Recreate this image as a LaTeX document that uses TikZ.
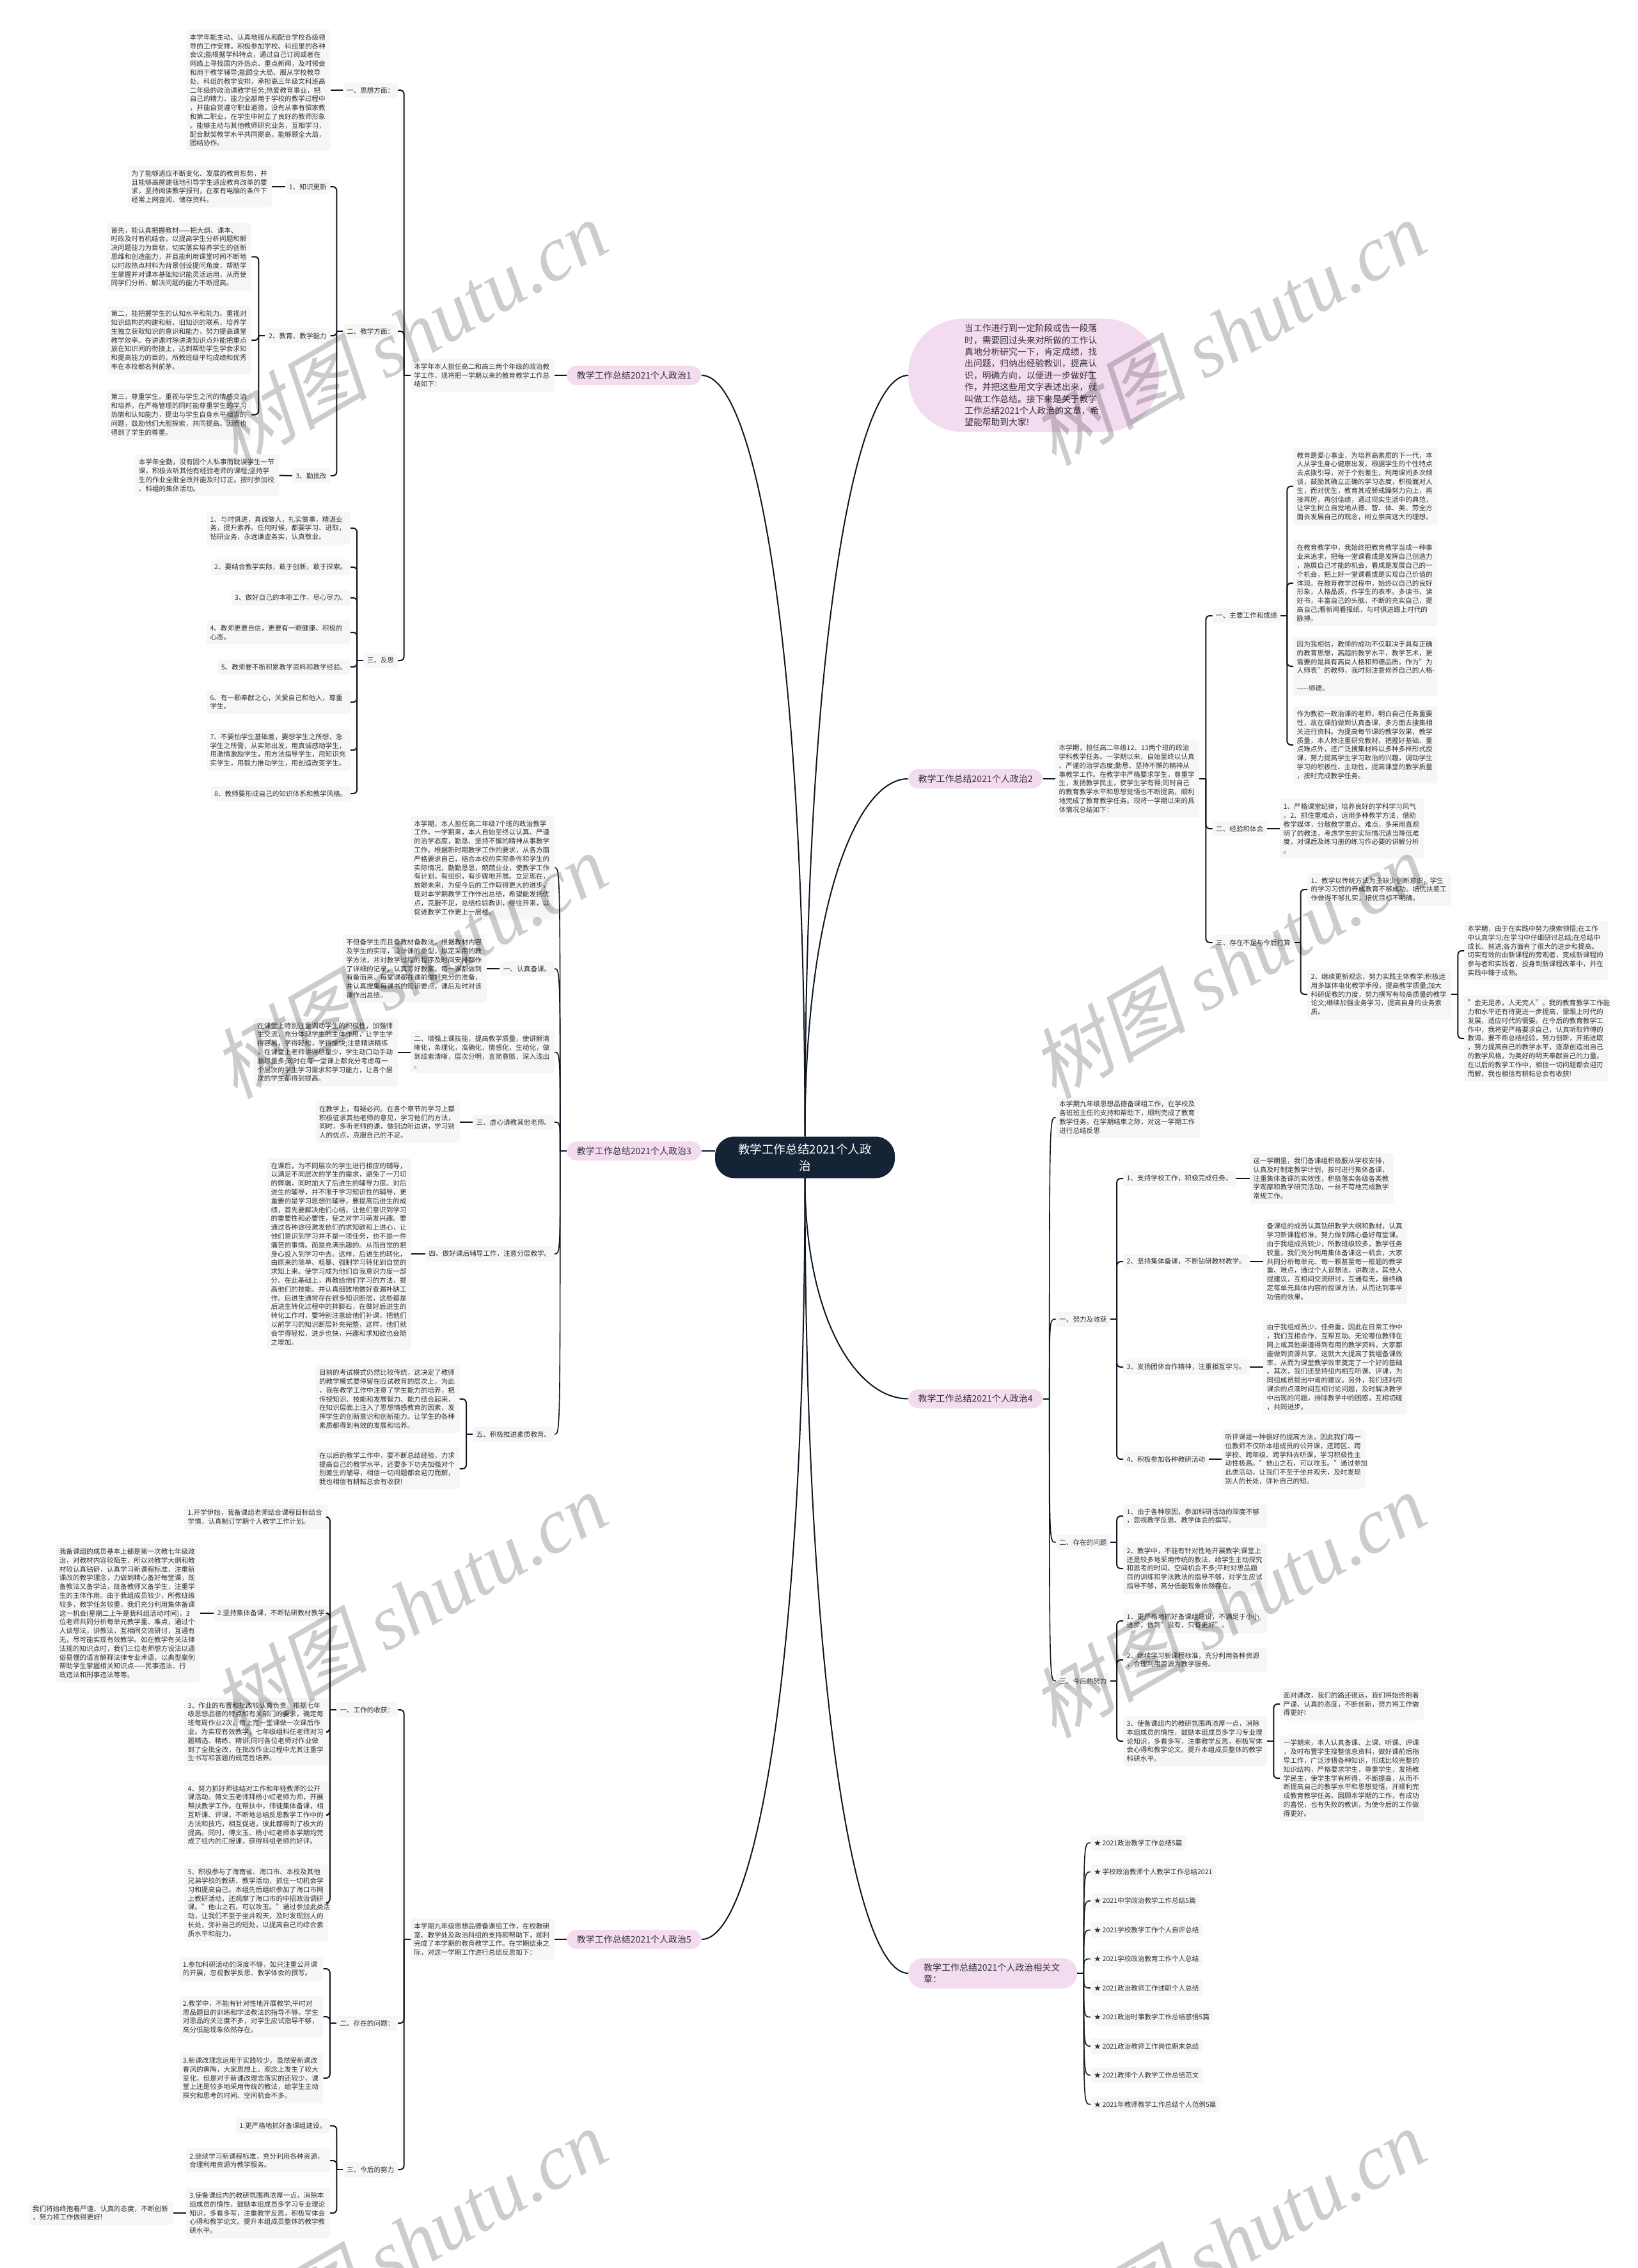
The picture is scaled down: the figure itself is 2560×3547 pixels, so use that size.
\documentclass[tikz,border=0pt]{standalone}
\usepackage{fontspec}
\usepackage{xcolor}
\usetikzlibrary{calc}
\setmainfont{Noto Sans CJK SC}
\newfontfamily\markcjk[FakeSlant=0.2]{Noto Sans CJK SC}
\newfontfamily\marklatin{Liberation Serif}
\definecolor{MapInk}{HTML}{333333}
\definecolor{MapLeaf}{HTML}{F6F6F6}
\definecolor{MapPink}{HTML}{F4DCF0}
\definecolor{MapRoot}{HTML}{142335}
\definecolor{MapLine}{HTML}{0E1722}
\newcommand{\leaffont}{\fontsize{10.6}{13.8}\selectfont}
\tikzset{
  leaf/.style={fill=MapLeaf,rounded corners=4pt,align=left,text=MapInk,font=\leaffont,inner xsep=5.5pt,inner ysep=6.8pt,text width=214pt},
  tag/.style={fill=MapLeaf,rounded corners=4pt,align=left,text=MapInk,font=\leaffont,inner xsep=5.5pt,inner ysep=6.8pt},
  topic/.style={fill=MapPink,rounded corners=16pt,text=MapInk,font=\fontsize{14}{17.5}\selectfont,align=left,inner xsep=16pt,inner ysep=8.5pt},
  linkline/.style={draw=MapLine,line width=2pt},
  fanline/.style={draw=MapLine,line width=1.6pt},
  markstamp/.style={rotate=30,text=black,text opacity=.2,font=\fontsize{122}{130}\selectfont}
}
\newcommand{\elbowleft}[2]{\draw[linkline] (#1.west) -- ++(-10,0) coordinate (turn);
  \foreach \kid in {#2} \draw[linkline,rounded corners=6pt] (turn) |- (\kid.east);}
\newcommand{\elbowright}[2]{\draw[linkline] (#1.east) -- ++(10,0) coordinate (turn);
  \foreach \kid in {#2} \draw[linkline,rounded corners=6pt] (turn) |- (\kid.west);}
\newcommand{\fanleft}[2]{\draw[linkline] (#1.west) -- ++(-10,0) coordinate (turn);
  \foreach \kid in {#2} \draw[fanline] (turn) .. controls (turn |- \kid.east) and (turn |- \kid.east) .. (\kid.east);}
\newcommand{\fanright}[2]{\draw[linkline] (#1.east) -- ++(10,0) coordinate (turn);
  \foreach \kid in {#2} \draw[fanline] (turn) .. controls (turn |- \kid.west) and (turn |- \kid.west) .. (\kid.west);}
\begin{document}
\begin{tikzpicture}[x=1pt,y=-1pt]
\path[use as bounding box,fill=white] (0,0) rectangle (2560,3547);
% root and the six main topics
\node[fill=MapRoot,rounded corners=30pt,text=white,align=center,text width=215pt,inner xsep=33pt,inner ysep=11pt,font=\fontsize{18.6}{25.7}\selectfont] (root) at (1258.5,1810) {教学工作总结2021个人政\\治};
\node[topic,anchor=east] (top1) at (1097,587) {教学工作总结2021个人政治1};
\node[topic,anchor=west] (top2) at (1419.5,1218) {教学工作总结2021个人政治2};
\node[topic,anchor=east] (top3) at (1097,1800) {教学工作总结2021个人政治3};
\node[topic,anchor=west] (top4) at (1419.5,2187.5) {教学工作总结2021个人政治4};
\node[topic,anchor=east] (top5) at (1097,3033) {教学工作总结2021个人政治5};
\node[topic,anchor=west,text width=216pt,inner xsep=24pt,rounded corners=23pt] (toprel) at (1420,3086) {教学工作总结2021个人政治相关文\\章：};
\node[topic,anchor=west,text width=216pt,inner xsep=88pt,rounded corners=85pt,font=\fontsize{13.8}{18.4}\selectfont] (intro) at (1420,587) {当工作进行到一定阶段或告一段落\\时，需要回过头来对所做的工作认\\真地分析研究一下，肯定成绩，找\\出问题，归纳出经验教训，提高认\\识，明确方向，以便进一步做好工\\作，并把这些用文字表述出来，就\\叫做工作总结。接下来是关于教学\\工作总结2021个人政治的文章，希\\望能帮助到大家!};
% section 1
\node[leaf,anchor=east] (s1box) at (867,587) {本学年本人担任高二和高三两个年级的政治教\\学工作，现将把一学期以来的教育教学工作总\\结如下：};
\node[tag,anchor=east] (s1a) at (622,141) {一、思想方面：};
\node[leaf,anchor=east] (s1aT) at (516.5,141) {本学年能主动、认真地服从和配合学校各级领\\导的工作安排。积极参加学校、科组里的各种\\会议;能根据学科特点，通过自己订阅或者在\\网络上寻找国内外热点、重点新闻，及时领会\\和用于教学辅导;能顾全大局、服从学校教导\\处、科组的教学安排，承担高三年级文科班高\\二年级的政治课教学任务;热爱教育事业，把\\自己的精力、能力全部用于学校的教学过程中\\，并能自觉遵守职业道德，没有从事有偿家教\\和第二职业，在学生中树立了良好的教师形象\\。能够主动与其他教师研究业务，互相学习，\\配合默契教学水平共同提高，能够顾全大局，\\团结协作。};
\node[tag,anchor=east] (s1b) at (622,518) {二、教学方面：};
\node[tag,anchor=east] (s1b1) at (516.5,292) {1、知识更新};
\node[leaf,anchor=east] (s1b1T) at (425.4,292) {为了能够适应不断变化、发展的教育形势，并\\且能够高屋建瓴地引导学生适应教育改革的要\\求，坚持阅读教学报刊，在家有电脑的条件下\\经常上网查阅、储存资料。};
\node[tag,anchor=east] (s1b2) at (516.5,525) {2、教育、教学能力};
\node[leaf,anchor=east] (s1b2a) at (393.3,401.5) {首先，能认真把握教材——把大纲、课本、\\时政及时有机结合，以提高学生分析问题和解\\决问题能力为目标，切实落实培养学生的创新\\思维和创造能力，并且能利用课堂时间不断地\\以时政热点材料为背景创设提问角度，帮助学\\生掌握并对课本基础知识能灵活运用，从而使\\同学们分析、解决问题的能力不断提高。};
\node[leaf,anchor=east] (s1b2b) at (393.3,532) {第二，能把握学生的认知水平和能力。重视对\\知识结构的构建和新、旧知识的联系，培养学\\生独立获取知识的意识和能力，努力提高课堂\\教学效率。在讲课时除讲清知识点外能把重点\\放在知识间的衔接上，达到帮助学生学会求知\\和提高能力的目的，所教班级平均成绩和优秀\\率在本校都名列前茅。};
\node[leaf,anchor=east] (s1b2c) at (393.3,648.5) {第三，尊重学生。重视与学生之间的情感交流\\和培养，在严格管理的同时能尊重学生的学习\\热情和认知能力，提出与学生自身水平相当的\\问题，鼓励他们大胆探索，共同提高。因而也\\得到了学生的尊重。};
\node[tag,anchor=east] (s1b3) at (516.5,744) {3、勤批改};
\node[leaf,anchor=east] (s1b3T) at (436.6,743.5) {本学年全勤，没有因个人私事而耽误学生一节\\课。积极去听其他有经验老师的课程;坚持学\\生的作业全批全改并能及时订正。按时参加校\\、科组的集体活动。};
\node[tag,anchor=east] (s1c) at (622,1033) {三、反思};
\node[leaf,anchor=east] (s1c1) at (548.2,826) {1、与时俱进，真诚做人，扎实做事，精湛业\\务，提升素养。任何时候，都要学习、进取，\\钻研业务，永远谦虚务实，认真敬业。};
\node[tag,anchor=east] (s1c2) at (548.2,887) {2、要结合教学实际，敢于创新，敢于探索。};
\node[tag,anchor=east] (s1c3) at (548.2,935) {3、做好自己的本职工作，尽心尽力。};
\node[leaf,anchor=east] (s1c4) at (548.2,989) {4、教师更要自信，更要有一颗健康、积极的\\心态。};
\node[tag,anchor=east] (s1c5) at (548.2,1043) {5、教师要不断积累教学资料和教学经验。};
\node[leaf,anchor=east] (s1c6) at (548.2,1098) {6、有一颗奉献之心，关爱自己和他人，尊重\\学生。};
\node[leaf,anchor=east] (s1c7) at (548.2,1173) {7、不要怕学生基础差，要想学生之所想，急\\学生之所需，从实际出发，用真诚感动学生，\\用激情激励学生，用方法指导学生，用知识充\\实学生，用毅力推动学生，用创造改变学生。};
\node[tag,anchor=east] (s1c8) at (548.2,1241) {8、教师要形成自己的知识体系和教学风格。};
% section 3
\node[leaf,anchor=east] (s3box) at (867,1357) {本学期，本人担任高二年级7个班的政治教学\\工作。一学期来，本人自始至终以认真、严谨\\的治学态度，勤恳、坚持不懈的精神从事教学\\工作。根据新时期教学工作的要求，从各方面\\严格要求自己，结合本校的实际条件和学生的\\实际情况，勤勤恳恳，兢兢业业，使教学工作\\有计划，有组织，有步骤地开展。立足现在，\\放眼未来，为使今后的工作取得更大的进步，\\现对本学期教学工作作出总结，希望能发扬优\\点，克服不足，总结检验教训，继往开来，以\\促进教学工作更上一层楼。};
\node[tag,anchor=east] (s3a) at (867,1515) {一、认真备课。};
\node[leaf,anchor=east] (s3aT) at (761,1515) {不但备学生而且备教材备教法，根据教材内容\\及学生的实际，设计课的类型，拟定采用的教\\学方法，并对教学过程的程序及时间安排都作\\了详细的记录，认真写好教案。每一课都做到\\有备而来，每堂课都在课前做好充分的准备，\\并认真搜集每课书的知识要点，课后及时对该\\课作出总结。};
\node[leaf,anchor=east] (s3b) at (867,1645.5) {二、增强上课技能，提高教学质量，使讲解清\\晰化，条理化，准确化，情感化，生动化，做\\到线索清晰，层次分明，言简意赅，深入浅出\\。};
\node[leaf,anchor=east] (s3bT) at (622,1645.5) {在课堂上特别注重调动学生的积极性，加强师\\生交流，充分体现学生的主体作用，让学生学\\得容易，学得轻松，学得愉快;注意精讲精练\\，在课堂上老师讲得尽量少，学生动口动手动\\脑尽量多;同时在每一堂课上都充分考虑每一\\个层次的学生学习需求和学习能力，让各个层\\次的学生都得到提高。};
\node[tag,anchor=east] (s3c) at (867,1755) {三、虚心请教其他老师。};
\node[leaf,anchor=east] (s3cT) at (718.7,1755) {在教学上，有疑必问。在各个章节的学习上都\\积极征求其他老师的意见，学习他们的方法，\\同时，多听老师的课，做到边听边讲，学习别\\人的优点，克服自己的不足。};
\node[tag,anchor=east] (s3d) at (867,1961) {四、做好课后辅导工作，注意分层教学。};
\node[leaf,anchor=east] (s3dT) at (643.3,1961) {在课后，为不同层次的学生进行相应的辅导，\\以满足不同层次的学生的需求，避免了一刀切\\的弊端，同时加大了后进生的辅导力度。对后\\进生的辅导，并不限于学习知识性的辅导，更\\重要的是学习思想的辅导，要提高后进生的成\\绩，首先要解决他们心结，让他们意识到学习\\的重要性和必要性，使之对学习萌发兴趣。要\\通过各种途径激发他们的求知欲和上进心，让\\他们意识到学习并不是一项任务，也不是一件\\痛苦的事情。而是充满乐趣的。从而自觉的把\\身心投入到学习中去。这样，后进生的转化，\\由原来的简单、粗暴、强制学习转化到自觉的\\求知上来。使学习成为他们自我意识力度一部\\分。在此基础上，再教给他们学习的方法，提\\高他们的技能。并认真细致地做好查漏补缺工\\作。后进生通常存在很多知识断层，这些都是\\后进生转化过程中的拌脚石，在做好后进生的\\转化工作时，要特别注意给他们补课，把他们\\以前学习的知识断层补充完整，这样，他们就\\会学得轻松，进步也快，兴趣和求知欲也会随\\之增加。};
\node[tag,anchor=east] (s3e) at (867,2243) {五、积极推进素质教育。};
\node[leaf,anchor=east] (s3e1) at (718.7,2188) {目前的考试模式仍然比较传统，这决定了教师\\的教学模式要停留在应试教育的层次上，为此\\，我在教学工作中注意了学生能力的培养，把\\传授知识、技能和发展智力、能力结合起来，\\在知识层面上注入了思想情感教育的因素，发\\挥学生的创新意识和创新能力。让学生的各种\\素质都得到有效的发展和培养。};
\node[leaf,anchor=east] (s3e2) at (718.7,2297) {在以后的教学工作中，要不断总结经验，力求\\提高自己的教学水平，还要多下功夫加强对个\\别差生的辅导，相信一切问题都会迎刃而解，\\我也相信有耕耘总会有收获!};
% section 5
\node[leaf,anchor=east] (s5box) at (867,3033) {本学期九年级思想品德备课组工作，在校教研\\室、教学处及政治科组的支持和帮助下，顺利\\完成了本学期的教育教学工作。在学期结束之\\际，对这一学期工作进行总结反思如下：};
\node[tag,anchor=east] (s5a) at (622,2674) {一、工作的收获：};
\node[leaf,anchor=east] (s5a1) at (513.4,2372.5) {1.开学伊始，我备课组老师结合课程目标结合\\学情，认真制订学期个人教学工作计划。};
\node[tag,anchor=east] (s5a2) at (513.4,2523) {2.坚持集体备课，不断钻研教材教学};
\node[leaf,anchor=east] (s5a2T) at (312.5,2523) {我备课组的成员基本上都是第一次教七年级政\\治，对教材内容较陌生，所以对教学大纲和教\\材较认真钻研，认真学习新课程标准，注重新\\课改的教学理念，力做到精心备好每堂课，既\\备教法又备学法，既备教师又备学生，注重学\\生的主体作用。由于我组成员较少，所教班级\\较多，教学任务较重，我们充分利用集体备课\\这一机会(星期二上午是我科组活动时间)，3\\位老师共同分析每单元教学重、难点，通过个\\人谈想法，讲教法，互相间交流研讨，互通有\\无，尽可能实现有效教学。如在教学有关法律\\法规的知识点时，我们三位老师想方设法以通\\俗易懂的语言解释法律专业术语，以典型案例\\帮助学生掌握相关知识点——民事违法、行\\政违法和刑事违法等等。};
\node[leaf,anchor=east] (s5a3) at (513.4,2708.5) {3、作业的布置和批改较认真负责。根据七年\\级思想品德的特点和有关部门的要求，确定每\\班每周作业2次，每上完一堂课做一次课后作\\业。为实现有效教学，七年级组科任老师对习\\题精选、精练、精讲;同时各位老师对作业做\\到了全批全改，在批改作业过程中尤其注重学\\生书写和答题的规范性培养。};
\node[leaf,anchor=east] (s5a4) at (513.4,2838.5) {4、努力抓好师徒结对工作和年轻教师的公开\\课活动。傅文玉老师拜杨小虹老师为师，开展\\帮扶教学工作。在帮扶中，师徒集体备课，相\\互听课、评课，不断地总结反思教学工作中的\\方法和技巧，相互促进，彼此都得到了极大的\\提高。同时，傅文玉、杨小虹老师本学期均完\\成了组内的汇报课，获得科组老师的好评。};
\node[leaf,anchor=east] (s5a5) at (513.4,2976) {5、积极参与了海南省、海口市、本校及其他\\兄弟学校的教研、教学活动，抓住一切机会学\\习和提高自己。本组先后组织参加了海口市网\\上教研活动，还观摩了海口市的中招政治调研\\课。"他山之石，可以攻玉。"通过参加此类活\\动，让我们不至于坐井观天，及时发现别人的\\长处，弥补自己的短处，以提高自己的综合素\\质水平和能力。};
\node[tag,anchor=east] (s5b) at (622,3164) {二、存在的问题：};
\node[leaf,anchor=east] (s5b1) at (505.6,3079) {1.参加科研活动的深度不够，如只注重公开课\\的开展，忽视教学反思、教学体会的撰写。};
\node[leaf,anchor=east] (s5b2) at (505.6,3154) {2.教学中，不能有针对性地开展教学;平时对\\思品题目的训练和学法教法的指导不够，学生\\对思品的关注度不多，对学生应试指导不够，\\高分低能现象依然存在。};
\node[leaf,anchor=east] (s5b3) at (505.6,3250) {3.新课改理念运用于实践较少。虽然受新课改\\春风的熏陶，大家思想上、观念上发生了较大\\变化，但是对于新课改理念落实的还较少，课\\堂上还是较多地采用传统的教法，给学生主动\\探究和思考的时间、空间机会不多。};
\node[tag,anchor=east] (s5c) at (622,3393) {三、今后的努力};
\node[tag,anchor=east] (s5c1) at (516,3324.5) {1.更严格地抓好备课组建设。};
\node[leaf,anchor=east] (s5c2) at (516,3379) {2.继续学习新课程标准，充分利用各种资源，\\合理利用资源为教学服务。};
\node[leaf,anchor=east] (s5c3) at (516,3461) {3.使备课组内的教研氛围再浓厚一点，消除本\\组成员的惰性，鼓励本组成员多学习专业理论\\知识，多看多写，注重教学反思，积极写体会\\心得和教学论文。提升本组成员整体的教学教\\研水平。};
\node[leaf,anchor=east] (s5c3T) at (270.6,3461) {我们将始终抱着严谨、认真的态度，不断创新\\，努力将工作做得更好!};
% section 2
\node[leaf,anchor=west] (s2box) at (1650,1218) {本学期，担任高二年级12、13两个班的政治\\学科教学任务。一学期以来，自始至终以认真\\、严谨的治学态度;勤恳、坚持不懈的精神从\\事教学工作。在教学中严格要求学生，尊重学\\生，发扬教学民主，使学生学有得;同时自己\\的教育教学水平和思想觉悟也不断提高，顺利\\地完成了教育教学任务。现将一学期以来的具\\体情况总结如下：};
\node[tag,anchor=west] (s2a) at (1895.5,963) {一、主要工作和成绩};
\node[leaf,anchor=west] (s2a1) at (2022,760.5) {教育是爱心事业，为培养高素质的下一代，本\\人从学生身心健康出发，根据学生的个性特点\\去点拨引导，对于个别差生，利用课间多次倾\\谈，鼓励其确立正确的学习态度，积极面对人\\生，而对优生，教育其戒骄戒躁努力向上，再\\接再厉，再创佳绩，通过现实生活中的典范，\\让学生树立自觉地从德、智、体、美、劳全方\\面去发展自己的观念，树立崇高远大的理想。};
\node[leaf,anchor=west] (s2a2) at (2022,912) {在教育教学中，我始终把教育教学当成一种事\\业来追求，把每一堂课看成是发挥自己创造力\\，施展自己才能的机会，看成是发展自己的一\\个机会，把上好一堂课看成是实现自己价值的\\体现。在教育教学过程中，始终以自己的良好\\形象，人格品质，作学生的表率。多读书，读\\好书，丰富自己的头脑，不断的充实自己，提\\高自己;看新闻看报纸，与时俱进跟上时代的\\脉搏。};
\node[leaf,anchor=west] (s2a3) at (2022,1042) {因为我相信，教师的成功不仅取决于具有正确\\的教育思想，高超的教学水平，教学艺术，更\\需要的是具有高尚人格和师德品质。作为"为\\人师表"的教师，我时刻注意修养自己的人格{-}\\{-}{-}{-}{-}{-}师德。};
\node[leaf,anchor=west] (s2a4) at (2022,1165) {作为教初一政治课的老师，明白自己任务重要\\性，故在课前做到认真备课，多方面去搜集相\\关进行资料。为提高每节课的教学效果，教学\\质量，本人除注重研究教材，把握好基础、重\\点难点外，还广泛搜集材料以多种多样形式授\\课，努力提高学生学习政治的兴趣，调动学生\\学习的积极性、主动性，提高课堂的教学质量\\，按时完成教学任务。};
\node[tag,anchor=west] (s2b) at (1895.5,1296) {二、经验和体会};
\node[leaf,anchor=west] (s2bT) at (2001,1296) {1、严格课堂纪律，培养良好的学科学习风气\\。2、抓住重难点，运用多种教学方法，借助\\教学媒体，分散教学重点、难点，多采用直观\\明了的教法，考虑学生的实际情况适当降低难\\度，对课后及练习册的练习作必要的讲解分析\\。};
\node[tag,anchor=west] (s2c) at (1895.5,1474) {三、存在不足与今后打算};
\node[leaf,anchor=west] (s2c1) at (2044,1391) {1、教学以传统方法为主缺少创新意识，学生\\的学习习惯的养成教育不够成功。培优扶差工\\作做得不够扎实，培优目标不明确。};
\node[leaf,anchor=west] (s2c2) at (2044,1555) {2、继续更新观念，努力实践主体教学;积极运\\用多媒体电化教学手段，提高教学质量;加大\\科研促教的力度，努力撰写有较高质量的教学\\论文;继续加强业务学习，提高自身的业务素\\质。};
\node[leaf,anchor=west] (s2c2a) at (2289,1487) {本学期，由于在实践中努力摸索领悟;在工作\\中认真学习;在学习中仔细研讨总结;在总结中\\成长、前进;各方面有了很大的进步和提高。\\切实有效的由新课程的旁观者，变成新课程的\\参与者和实践者，投身到新课程改革中，并在\\实践中臻于成熟。};
\node[leaf,anchor=west] (s2c2b) at (2289,1624) {"金无足赤，人无完人"。我的教育教学工作能\\力和水平还有待更进一步提高，需跟上时代的\\发展，适应时代的需要。在今后的教育教学工\\作中，我将更严格要求自己，认真听取师傅的\\教诲，要不断总结经验，努力创新，开拓进取\\，努力提高自己的教学水平，逐渐创造出自己\\的教学风格，为美好的明天奉献自己的力量。\\在以后的教学工作中，相信一切问题都会迎刃\\而解，我也相信有耕耘总会有收获!};
% section 4
\node[leaf,anchor=west] (s4box) at (1650.6,1747.5) {本学期九年级思想品德备课组工作，在学校及\\各班班主任的支持和帮助下，顺利完成了教育\\教学任务。在学期结束之际，对这一学期工作\\进行总结反思};
\node[tag,anchor=west] (s4a) at (1650.6,2063) {一、努力及收获};
\node[tag,anchor=west] (s4a1) at (1756,1843) {1、支持学校工作，积极完成任务。};
\node[leaf,anchor=west] (s4a1T) at (1953.7,1843) {这一学期里，我们备课组积极服从学校安排，\\认真及时制定教学计划，按时进行集体备课，\\注重集体备课的实效性，积极落实各级各类教\\学观摩和教学研究活动，一丝不苟地完成教学\\常规工作。};
\node[tag,anchor=west] (s4a2) at (1756,1973) {2、坚持集体备课，不断钻研教材教学。};
\node[leaf,anchor=west] (s4a2T) at (1975,1973) {备课组的成员认真钻研教学大纲和教材，认真\\学习新课程标准，努力做到精心备好每堂课。\\由于我组成员较少，所教班级较多，教学任务\\较重，我们充分利用集体备课这一机会，大家\\共同分析每单元、每一颗甚至每一框题的教学\\重、难点，通过个人谈想法，讲教法，其他人\\提建议，互相间交流研讨，互通有无，最终确\\定每单元具体内容的授课方法，从而达到事半\\功倍的效果。};
\node[tag,anchor=west] (s4a3) at (1756,2138) {3、发扬团体合作精神，注重相互学习。};
\node[leaf,anchor=west] (s4a3T) at (1975,2138) {由于我组成员少，任务重，因此在日常工作中\\，我们互相合作，互帮互助。无论哪位教师在\\网上或其他渠道得到有用的教学资料，大家都\\能做到资源共享，这就大大提高了我组备课效\\率，从而为课堂教学效率奠定了一个好的基础\\。其次，我们还坚持组内相互听课、评课，为\\同组成员提出中肯的建议。另外，我们还利用\\课余的点滴时间互相讨论问题，及时解决教学\\中出现的问题，排除教学中的困惑，互相切磋\\，共同进步。};
\node[tag,anchor=west] (s4a4) at (1756,2282) {4、积极参加各种教研活动};
\node[leaf,anchor=west] (s4a4T) at (1910,2282) {听评课是一种很好的提高方法，因此我们每一\\位教师不仅听本组成员的公开课，还跨区、跨\\学校、跨年级、跨学科去听课，学习积极性主\\动性极高。"他山之石，可以攻玉。"通过参加\\此类活动，让我们不至于坐井观天，及时发现\\别人的长处，弥补自己的短。};
\node[tag,anchor=west] (s4b) at (1650.6,2412) {二、存在的问题};
\node[leaf,anchor=west] (s4b1) at (1756,2371) {1、由于各种原因，参加科研活动的深度不够\\，忽视教学反思、教学体会的撰写。};
\node[leaf,anchor=west] (s4b2) at (1756,2453) {2、教学中，不能有针对性地开展教学;课堂上\\还是较多地采用传统的教法，给学生主动探究\\和思考的时间、空间机会不多;平时对思品题\\目的训练和学法教法的指导不够，对学生应试\\指导不够，高分低能现象依然存在。};
\node[tag,anchor=west] (s4c) at (1650.6,2629) {三、今后的努力};
\node[leaf,anchor=west] (s4c1) at (1756,2535) {1、更严格地抓好备课组建设，不满足于小小\\进步，做到"没有，只有更好"。};
\node[leaf,anchor=west] (s4c2) at (1756,2596) {2、继续学习新课程标准，充分利用各种资源\\，合理利用资源为教学服务。};
\node[leaf,anchor=west] (s4c3) at (1756,2723) {3、使备课组内的教研氛围再浓厚一点，消除\\本组成员的惰性，鼓励本组成员多学习专业理\\论知识，多看多写，注重教学反思，积极写体\\会心得和教学论文。提升本组成员整体的教学\\科研水平。};
\node[leaf,anchor=west] (s4c3a) at (2001,2665) {面对课改，我们的路还很远，我们将始终抱着\\严谨、认真的态度，不断创新，努力将工作做\\得更好!};
\node[leaf,anchor=west] (s4c3b) at (2001,2781) {一学期来，本人认真备课、上课、听课、评课\\，及时布置学生搜整信息资料，做好课前后指\\导工作，广泛涉猎各种知识，形成比较完整的\\知识结构，严格要求学生，尊重学生，发扬教\\学民主，使学生学有所得，不断提高，从而不\\断提高自己的教学水平和思想觉悟，并顺利完\\成教育教学任务。回顾本学期的工作，有成功\\的喜悦，也有失败的教训，为使今后的工作做\\得更好。};
% related articles
\foreach \i/\ypos/\txt in {1/2882/2021政治教学工作总结5篇,2/2927.5/学校政治教师个人教学工作总结2021,3/2972.8/2021中学政治教学工作总结5篇,4/3018.4/2021学校教学工作个人自评总结,5/3063.6/2021学校政治教育工作个人总结,6/3109/2021政治教师工作述职个人总结,7/3154.5/2021政治时事教学工作总结感悟5篇,8/3200/2021政治教师工作岗位期末总结,9/3245.4/2021教师个人教学工作总结范文,10/3291/2021年教师教学工作总结个人范例5篇}
  \node[tag,anchor=west] (rel\i) at (1705,\ypos) {★ \txt};
% links from the root
\draw[linkline] (top3.east) -- (top3.east -| root.west);
\draw[linkline] (root.north) .. controls ($(root.north)+(0,-776)$) and ($(top1.east)+(83,0)$) .. (top1.east);
\draw[linkline] (root.north) .. controls ($(root.north)+(0,-776)$) and ($(intro.west)+(-83,0)$) .. (intro.west);
\draw[linkline] (root.north) .. controls ($(root.north)+(0,-360)$) and ($(top2.west)+(-80,0)$) .. (top2.west);
\draw[linkline] (root.south) .. controls ($(root.south)+(0,220)$) and ($(top4.west)+(-80,0)$) .. (top4.west);
\draw[linkline] (root.south) .. controls ($(root.south)+(0,770)$) and ($(top5.east)+(83,0)$) .. (top5.east);
\draw[linkline] (root.south) .. controls ($(root.south)+(0,800)$) and ($(toprel.west)+(-83,0)$) .. (toprel.west);
% links inside section 1
\draw[linkline] (top1.west) -- (s1box.east);
\elbowleft{s1box}{s1a,s1b,s1c}
\draw[linkline] (s1a.west) -- (s1aT.east);
\elbowleft{s1b}{s1b1,s1b2,s1b3}
\draw[linkline] (s1b1.west) -- (s1b1T.east);
\elbowleft{s1b2}{s1b2a,s1b2b,s1b2c}
\draw[linkline] (s1b3.west) -- (s1b3T.east);
\elbowleft{s1c}{s1c1,s1c2,s1c3,s1c4,s1c5,s1c6,s1c7,s1c8}
% links inside section 3
\fanleft{top3}{s3box,s3a,s3b,s3c,s3d,s3e}
\draw[linkline] (s3a.west) -- (s3aT.east);
\draw[linkline] (s3b.west) -- (s3bT.east);
\draw[linkline] (s3c.west) -- (s3cT.east);
\draw[linkline] (s3d.west) -- (s3dT.east);
\elbowleft{s3e}{s3e1,s3e2}
% links inside section 5
\draw[linkline] (top5.west) -- (s5box.east);
\elbowleft{s5box}{s5a,s5b,s5c}
\elbowleft{s5a}{s5a1,s5a2,s5a3,s5a4,s5a5}
\draw[linkline] (s5a2.west) -- (s5a2T.east);
\elbowleft{s5b}{s5b1,s5b2,s5b3}
\elbowleft{s5c}{s5c1,s5c2,s5c3}
\draw[linkline] (s5c3.west) -- (s5c3T.east);
% links inside section 2
\draw[linkline] (top2.east) -- (s2box.west);
\elbowright{s2box}{s2a,s2b,s2c}
\elbowright{s2a}{s2a1,s2a2,s2a3,s2a4}
\draw[linkline] (s2b.east) -- (s2bT.west);
\elbowright{s2c}{s2c1,s2c2}
\elbowright{s2c2}{s2c2a,s2c2b}
% links inside section 4
\fanright{top4}{s4box,s4a,s4b,s4c}
\elbowright{s4a}{s4a1,s4a2,s4a3,s4a4}
\draw[linkline] (s4a1.east) -- (s4a1T.west);
\draw[linkline] (s4a2.east) -- (s4a2T.west);
\draw[linkline] (s4a3.east) -- (s4a3T.west);
\draw[linkline] (s4a4.east) -- (s4a4T.west);
\elbowright{s4b}{s4b1,s4b2}
\elbowright{s4c}{s4c1,s4c2,s4c3}
\elbowright{s4c3}{s4c3a,s4c3b}
\fanright{toprel}{rel1,rel2,rel3,rel4,rel5,rel6,rel7,rel8,rel9,rel10}
% watermark
\foreach \mx in {640,1920}
  \foreach \my in {520,1510,2510,3505}
    \node[markstamp] (mark\mx\my) at (\mx,\my) {{\markcjk 树图} {\marklatin\itshape shutu.cn}};
\end{tikzpicture}
\end{document}
